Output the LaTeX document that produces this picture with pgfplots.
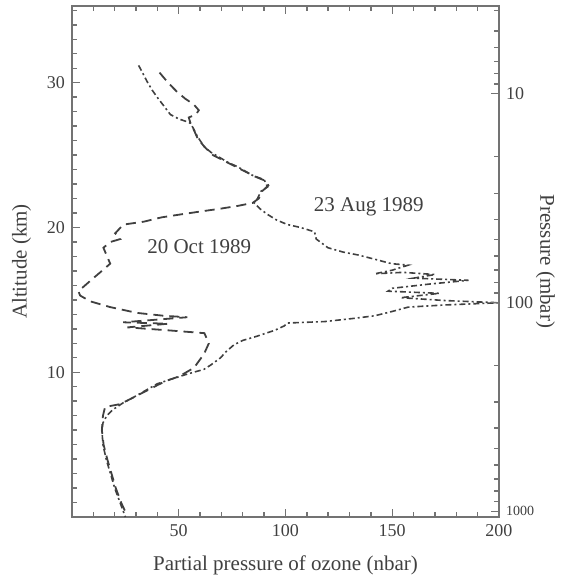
\documentclass[border=0pt]{standalone}
\usepackage{fontspec}
\setmainfont{Liberation Serif}
\usepackage{pgfplots}
\pgfplotsset{compat=1.18}

\definecolor{ink}{gray}{0.25}
\definecolor{frame}{gray}{0.45}

\pgfplotstableread{
x h
31.2 31.2
33 30.7
35.1 30.1
37.5 29.5
39.9 29.0
43 28.4
46.1 27.8
50 27.5
54 27.3
55.5 27.2
57 26.8
58.7 26.3
61.8 25.6
65 25.2
69.6 24.8
73 24.5
77.5 24.2
81 23.9
84.6 23.6
90 23.3
91.6 22.8
88.5 22.5
86.9 22.0
85.3 21.7
88 21.3
91.6 20.9
96 20.5
101 20.2
107 20.0
113.6 19.7
114.4 19.2
119.9 18.6
127 18.3
134 18.1
142 17.8
149.6 17.5
157.5 17.4
150 17.05
141.8 16.8
155 16.9
170 16.75
160 16.5
185.7 16.35
168 16.1
150 15.8
148 15.6
172 15.45
154 15.15
175 14.95
200 14.8
175 14.65
157.5 14.5
150 14.2
141.8 13.9
130.8 13.7
118.3 13.5
101 13.4
99.4 13.2
95 12.9
86.9 12.5
80 12.2
75.9 11.9
72 11.4
69.6 11.0
65 10.5
61.8 10.2
57 10.0
52.4 9.8
46 9.5
39.9 9.2
32.8 8.6
28 8.2
24.1 7.9
19 7.4
16.3 7.0
14.5 6.5
14 6.0
14.5 5.0
16 4.0
18 3.0
20 2.0
22.5 1.0
25 0.0
}\aug

\pgfplotstableread{
x h
41 30.7
45 30.0
49 29.4
53 28.9
57 28.5
59.4 28.1
58 27.8
54.7 27.6
55.5 27.2
57.5 26.6
59 26.1
62.5 25.5
66 25.0
70 24.7
74 24.4
78 24.1
82 23.8
86 23.5
91 23.2
92 22.9
89 22.5
87.5 22.0
84.6 21.7
78 21.5
69.6 21.3
60 21.1
50.8 20.9
42 20.7
33.6 20.4
24.1 20.2
20.2 19.6
22.6 19.2
18 19.0
14.7 18.6
17.9 17.5
14 17.0
10 16.5
6.9 16.1
3 15.6
3.8 15.3
8.5 14.9
17.9 14.5
30.4 14.1
43 13.9
54 13.8
24 13.45
45 13.35
26 13.1
44.6 12.9
62 12.7
64.1 12.0
61.8 11.25
57.1 10.3
50 9.7
44 9.4
39.9 9.1
32 8.5
22.6 7.8
15.5 7.6
14.5 7.0
14 6.0
14.8 5.0
16.5 4.0
18.5 3.0
20.5 2.0
23 1.0
25.5 0.2
}\oct

\begin{document}
\begin{tikzpicture}
\pgfplotsset{
  every axis/.append style={
    scale only axis,
    width=213.5pt, height=255.5pt,
    axis line style={frame, line width=0.9pt},
    every tick/.style={frame, line width=0.7pt},
    major tick length=4pt, minor tick length=2.5pt,
    tick align=inside,
    tick label style={font=\fontsize{9}{10}\selectfont, text=ink},
    label style={font=\fontsize{10.5}{12}\selectfont, text=ink},
    /pgf/number format/assume math mode=true,
  }
}
\begin{axis}[
  xmin=0, xmax=200, ymin=0, ymax=35.3,
  xtick={50,100,150,200},
  minor xtick={10,20,...,190},
  ytick={10,20,30},
  minor ytick={1,2,...,35},
  ytick pos=left,
  xtick pos=both,
  xticklabel pos=lower,
  xlabel={Partial pressure of ozone (nbar)},
  ylabel={Altitude (km)},
  xlabel style={yshift=-3pt},
  ylabel style={yshift=1pt},
]
\addplot[ink, line width=0.8pt, dash pattern=on 3pt off 1.5pt on 1pt off 1.5pt] table[x=x, y=h] {\aug};
\addplot[ink, line width=0.9pt, dash pattern=on 5pt off 3pt] table[x=x, y=h] {\oct};
\node[font=\fontsize{10.5}{12}\selectfont, text=ink] at (axis cs:139,21.4) {23 Aug 1989};
\node[font=\fontsize{10.5}{12}\selectfont, text=ink] at (axis cs:59.6,18.7) {20 Oct 1989};
\end{axis}
\begin{axis}[
  xmin=0, xmax=200,
  ymode=log, y dir=reverse,
  ymin=3.8, ymax=1066,
  axis x line=none,
  axis y line*=right,
  ytick={10,100,1000},
  minor ytick={4,5,6,7,8,9,20,30,40,50,60,70,80,90,200,300,400,500,600,700,800,900},
  yticklabels={10,100,\fontsize{7}{8}\selectfont 1000},
  log ticks with fixed point,
  ylabel={Pressure (mbar)},
  ylabel style={rotate=180, yshift=-6pt},
]
\addplot[draw=none] coordinates {(0,10) (0,100)};
\end{axis}
\useasboundingbox (-36pt,-33.5pt) rectangle (246.5pt,258.5pt);
\end{tikzpicture}
\end{document}
